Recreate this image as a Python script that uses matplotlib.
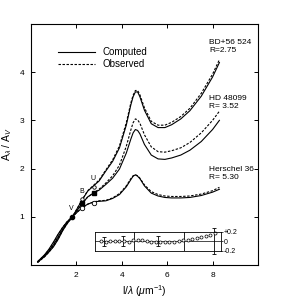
import numpy as np
import matplotlib
matplotlib.use("Agg")
import matplotlib.pyplot as plt

plt.rcParams['font.family'] = ['Liberation Sans', 'DejaVu Sans']
plt.rcParams['mathtext.fontset'] = 'custom'
plt.rcParams['mathtext.rm'] = 'Liberation Sans'
plt.rcParams['mathtext.it'] = 'Liberation Sans:italic'

# inverse wavelength (1/um)
wavenum = [0.3, 0.6, 0.8, 1.0, 1.2, 1.4, 1.6, 1.83, 2.05, 2.27, 2.5, 2.78, 3.0, 3.3, 3.6, 3.9,
           4.2, 4.4, 4.5, 4.6, 4.7, 4.8, 5.0, 5.3, 5.6, 5.9, 6.2, 6.6, 7.0, 7.5, 8.0, 8.3]

# computed A_lambda / A_V
bd_comp = [0.06, 0.17, 0.27, 0.38, 0.53, 0.71, 0.86, 1.00, 1.18, 1.36, 1.53, 1.65, 1.74, 1.95, 2.15, 2.43,
           2.90, 3.32, 3.49, 3.59, 3.59, 3.49, 3.21, 2.93, 2.85, 2.85, 2.91, 3.03, 3.20, 3.50, 3.90, 4.20]
hd_comp = [0.06, 0.19, 0.30, 0.42, 0.58, 0.74, 0.88, 1.00, 1.14, 1.28, 1.41, 1.50, 1.55, 1.67, 1.80, 1.99,
           2.32, 2.61, 2.74, 2.81, 2.79, 2.72, 2.50, 2.28, 2.20, 2.19, 2.22, 2.28, 2.38, 2.56, 2.81, 3.00]
h36_comp = [0.07, 0.21, 0.33, 0.48, 0.64, 0.78, 0.90, 1.00, 1.10, 1.19, 1.26, 1.31, 1.32, 1.33, 1.38, 1.46,
            1.62, 1.77, 1.84, 1.87, 1.84, 1.79, 1.64, 1.49, 1.43, 1.40, 1.39, 1.39, 1.40, 1.44, 1.51, 1.57]

# observed A_lambda / A_V
bd_obs = [0.05, 0.17, 0.27, 0.39, 0.54, 0.72, 0.86, 1.00, 1.18, 1.36, 1.54, 1.66, 1.76, 1.97, 2.18, 2.47,
          2.95, 3.36, 3.52, 3.62, 3.62, 3.53, 3.26, 2.98, 2.90, 2.90, 2.96, 3.08, 3.25, 3.56, 3.96, 4.26]
hd_obs = [0.06, 0.18, 0.29, 0.41, 0.57, 0.73, 0.87, 1.00, 1.14, 1.28, 1.41, 1.50, 1.57, 1.70, 1.85, 2.07,
          2.46, 2.80, 2.95, 3.03, 3.01, 2.94, 2.70, 2.45, 2.35, 2.34, 2.37, 2.43, 2.54, 2.74, 3.00, 3.19]
h36_obs = [0.07, 0.20, 0.32, 0.46, 0.63, 0.78, 0.90, 1.00, 1.10, 1.19, 1.26, 1.31, 1.33, 1.34, 1.39, 1.48,
           1.64, 1.79, 1.85, 1.87, 1.85, 1.80, 1.66, 1.52, 1.46, 1.43, 1.42, 1.42, 1.43, 1.47, 1.54, 1.61]

star_names = ['BD+56 524\nR=2.75', 'HD 48099\nR= 3.52', 'Herschel 36\nR= 5.30']

# UBV photometry points
band_names = ['V', 'B', 'U']
band_x = [1.83, 2.27, 2.78]
bd_bands = [1.00, 1.36, 1.62]
hd_bands = [1.00, 1.29, 1.50]
h36_bands = [1.00, 1.19, 1.29]

# residuals (inset)
res_x = [3.1, 3.3, 3.5, 3.7, 3.9, 4.1, 4.3, 4.5, 4.7, 4.9, 5.1, 5.3, 5.5, 5.7, 5.9, 6.1, 6.3,
         6.5, 6.7, 6.9, 7.1, 7.3, 7.5, 7.7, 7.9, 8.1]
res_y = [0.0, -0.01, 0.0, 0.0, 0.01, 0.0, -0.01, 0.02, 0.03, 0.02, 0.0, -0.01, -0.02, -0.01, -0.01,
         -0.01, -0.01, 0.0, 0.02, 0.03, 0.04, 0.06, 0.08, 0.10, 0.13, 0.17]
err_x = [3.2, 4.05, 5.6, 8.05]
err_size = [0.09, 0.1, 0.1, 0.27]
divider_x = [4.55, 6.74]

fig = plt.figure(figsize=(3, 3), dpi=100)
ax = fig.add_axes([0.103, 0.117, 0.757, 0.803])

dash = (0, (2.2, 1.4))
ax.plot(wavenum, bd_comp, 'k-', lw=0.8, label='Computed')
ax.plot(wavenum, bd_obs, color='k', ls=dash, lw=0.8, label='Observed')
for comp, obs in [(hd_comp, hd_obs), (h36_comp, h36_obs)]:
    ax.plot(wavenum, comp, 'k-', lw=0.8)
    ax.plot(wavenum, obs, color='k', ls=dash, lw=0.8)

# band markers
ax.plot(band_x[0], bd_bands[0], 'o', color='k', ms=3)
ax.plot(band_x[1:], bd_bands[1:], 'o', mfc='white', mec='k', ms=2.5, mew=0.6)
ax.plot(band_x[1:], hd_bands[1:], 's', color='k', ms=2.8)
ax.plot(band_x[1:], h36_bands[1:], 'o', mfc='white', mec='k', ms=3.2, mew=0.6)
band_label_y = [1.17, 1.53, 1.8]
for name, bx, by in zip(band_names, band_x, band_label_y):
    ax.text(bx - 0.05, by, name, fontsize=5, ha='center', va='center')

label_y = [4.68, 3.52, 2.05]
for name, ly in zip(star_names, label_y):
    ax.text(7.85, ly, name, fontsize=6, ha='left', va='top', linespacing=1.15)

ax.set_xlim(0, 10)
ax.set_ylim(0, 5)
ax.set_xticks([2, 4, 6, 8])
ax.set_yticks([1, 2, 3, 4])
ax.tick_params(direction='in', length=3, width=0.7, labelsize=6, top=True, right=True, pad=5)
for sp in ax.spines.values():
    sp.set_linewidth(0.8)
ax.set_xlabel(r'l/$\lambda$ ($\mu$m$^{-1}$)', fontsize=7.5, labelpad=3)
ax.set_ylabel(r'A$_\lambda$ / A$_V$', fontsize=7.5, labelpad=4)

ax.legend(loc='upper left', bbox_to_anchor=(0.1, 0.925), frameon=False, fontsize=7,
          handlelength=3.8, handletextpad=0.7, labelspacing=0.25, borderpad=0)

# residual inset
ins = ax.inset_axes([2.81, 0.29, 5.54, 0.40], transform=ax.transData)
ins.patch.set_alpha(0)
ins.set_xlim(2.81, 8.35)
ins.set_ylim(-0.2, 0.2)
ins.axhline(0, color='k', lw=0.5)
for dx in divider_x:
    ins.axvline(dx, color='k', lw=0.6)
ins.errorbar(err_x, [0] * len(err_x), yerr=err_size, fmt='none', ecolor='k', elinewidth=0.6,
             capsize=1.5, capthick=0.6, clip_on=False)
ins.plot(res_x, res_y, 'o', mfc='white', mec='k', ms=2.2, mew=0.5, clip_on=False)
ins.set_xticks([])
ins.yaxis.tick_right()
ins.set_yticks([0.2, 0, -0.2])
ins.set_yticklabels(['+0.2', '0', '-0.2'])
ins.tick_params(axis='y', direction='out', length=1.5, width=0.5, labelsize=5, pad=1)
for sp in ins.spines.values():
    sp.set_linewidth(0.6)

fig.savefig('out.png', dpi=100)
